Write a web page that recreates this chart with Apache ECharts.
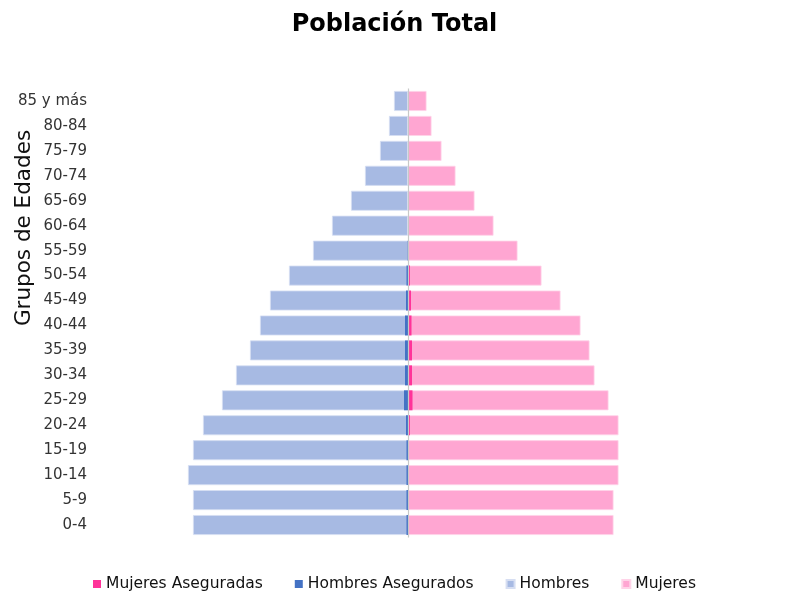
<!DOCTYPE html>
<html>
<head>
<meta charset="utf-8">
<script src="https://cdn.jsdelivr.net/npm/echarts@6/dist/echarts.min.js"></script>
<style>
  html, body { margin: 0; padding: 0; background: #fff; }
  #chart { width: 789px; height: 607px; }
</style>
</head>
<body>
<div id="chart"></div>
<script>
  // Grupos de edad, de abajo hacia arriba
  const ageGroups = ['0-4', '5-9', '10-14', '15-19', '20-24', '25-29', '30-34', '35-39', '40-44',
    '45-49', '50-54', '55-59', '60-64', '65-69', '70-74', '75-79', '80-84', '85 y más'];

  // Valores estimados de la imagen (hombres se dibujan a la izquierda)
  const hombres = [215, 215, 220, 215, 205, 186, 172, 158, 148, 138, 119, 95, 76, 57, 43, 28, 19, 14];
  const mujeres = [204, 204, 209, 209, 209, 199, 185, 180, 171, 151, 132, 108, 84, 65, 46, 32, 22, 17];
  const hombresAsegurados = [1.5, 1.5, 1.5, 1.5, 2, 4, 3, 3, 3, 2, 1.5, 0.5, 0, 0, 0, 0, 0, 0];
  const mujeresAseguradas = [1, 1, 1, 1, 2, 4.5, 4, 4, 3.5, 3, 2, 1, 1, 0.5, 0, 0, 0, 0];

  const colors = {
    hombres: '#a7bae3',
    mujeres: '#ffa6d2',
    hombresAseg: '#4472c4',
    mujeresAseg: '#ff3399'
  };

  const chart = echarts.init(document.getElementById('chart'));
  const font = '"DejaVu Sans", sans-serif';

  const barBase = {
    type: 'bar',
    barGap: '-100%',
    barCategoryGap: '20%',
    silent: true
  };

  chart.setOption({
    animation: false,
    textStyle: { fontFamily: font },
    title: {
      text: 'Población Total',
      left: 'center',
      top: 8,
      textStyle: { fontSize: 24, fontWeight: 'bold', color: '#000', fontFamily: font }
    },
    legend: {
      data: ['Mujeres Aseguradas', 'Hombres Asegurados', 'Hombres', 'Mujeres'],
      bottom: 10,
      left: 'center',
      itemWidth: 8,
      itemHeight: 8,
      itemGap: 32,
      icon: 'rect',
      textStyle: { fontSize: 15.5, color: '#111', fontFamily: font }
    },
    graphic: [{
      type: 'text',
      x: 24,
      y: 228,
      rotation: Math.PI / 2,
      style: {
        text: 'Grupos de Edades',
        fontSize: 21.5,
        fontFamily: font,
        fill: '#111',
        textAlign: 'center',
        textVerticalAlign: 'middle'
      }
    }],
    grid: { left: 88, right: 61, top: 88.5, bottom: 69.5 },
    xAxis: {
      type: 'value',
      min: -320,
      max: 320,
      show: false
    },
    yAxis: {
      type: 'category',
      data: ageGroups,
      axisLine: { show: false },
      axisTick: { show: false },
      axisLabel: { margin: 1, fontSize: 15, color: '#333', fontFamily: font, padding: [2, 0, 0, 0] }
    },
    series: [
      Object.assign({}, barBase, {
        name: 'Hombres',
        itemStyle: { color: colors.hombres, borderColor: '#d6def2', borderWidth: 0.8 },
        data: hombres.map(v => -v),
        markLine: {
          silent: true,
          symbol: 'none',
          label: { show: false },
          lineStyle: { color: '#c8c8c8', type: 'solid', width: 1.2 },
          data: [{ xAxis: 0 }]
        }
      }),
      Object.assign({}, barBase, {
        name: 'Mujeres',
        itemStyle: { color: colors.mujeres, borderColor: '#ffd3e8', borderWidth: 0.8 },
        data: mujeres.map(v => v + 1.5)
      }),
      Object.assign({}, barBase, {
        name: 'Hombres Asegurados',
        itemStyle: { color: colors.hombresAseg },
        data: hombresAsegurados.map(v => -v)
      }),
      Object.assign({}, barBase, {
        name: 'Mujeres Aseguradas',
        itemStyle: { color: colors.mujeresAseg },
        data: mujeresAseguradas
      })
    ]
  });
</script>
</body>
</html>
